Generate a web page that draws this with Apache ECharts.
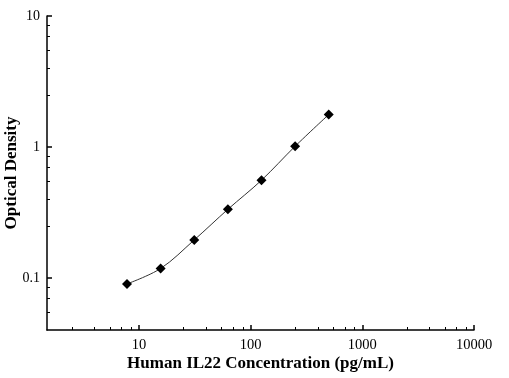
<!DOCTYPE html>
<html>
<head>
<meta charset="utf-8">
<script src="https://cdn.jsdelivr.net/npm/echarts@6/dist/echarts.min.js"></script>
<style>
html, body { margin: 0; padding: 0; background: #fff; }
#main { width: 509px; height: 378px; }
</style>
</head>
<body>
<div id="main"></div>
<script>
// 标准曲线数据
var concentration = [7.8125, 15.625, 31.25, 62.5, 125, 250, 500];
var density = [0.090, 0.118, 0.195, 0.334, 0.557, 1.012, 1.768];

// 刻度
var xTicks = [10, 100, 1000, 10000];
var yTicks = [0.1, 1, 10];
var xMinor = [2.5, 4, 5.5, 7, 8.5, 25, 40, 55, 70, 85, 250, 400, 550, 700, 850, 2500, 4000, 5500, 7000, 8500];
var yMinor = [0.055, 0.07, 0.085, 0.25, 0.4, 0.55, 0.7, 0.85, 2.5, 4, 5.5, 7, 8.5];

var myChart = echarts.init(document.getElementById('main'));

var font = 'Liberation Serif';
var grid = { left: 47, right: 35, top: 16, bottom: 48, outerBoundsMode: 'none', containLabel: false };

var points = [];
for (var i = 0; i < concentration.length; i++) {
	points.push([concentration[i], density[i]]);
}

function plain(v) {
	return String(v);
}

var option = {
	animation: false,
	grid: grid,
	xAxis: [{
		type: 'log',
		min: 1.5,
		max: 10000,
		position: 'bottom',
		name: 'Human IL22 Concentration (pg/mL)',
		nameLocation: 'middle',
		nameGap: 25,
		nameMoveOverlap: false,
		nameTextStyle: { fontFamily: font, fontWeight: 'bold', fontSize: 17, color: '#000' },
		axisLine: { show: true, lineStyle: { color: '#000', width: 1.5 } },
		axisTick: { show: true, inside: true, length: 5, customValues: xTicks, lineStyle: { color: '#000', width: 1.5 } },
		axisLabel: { customValues: xTicks, formatter: plain, margin: 8, fontFamily: font, fontSize: 14.5, color: '#000' },
		splitLine: { show: false }
	}, {
		type: 'log',
		min: 1.5,
		max: 10000,
		position: 'bottom',
		offset: 0,
		axisLine: { show: false },
		axisTick: { show: true, inside: true, length: 3, customValues: xMinor, lineStyle: { color: '#000', width: 1 } },
		axisLabel: { show: false },
		splitLine: { show: false }
	}],
	yAxis: [{
		type: 'log',
		min: 0.04,
		max: 10,
		position: 'left',
		name: 'Optical Density',
		nameLocation: 'middle',
		nameGap: 27,
		nameMoveOverlap: false,
		nameRotate: 90,
		nameTextStyle: { fontFamily: font, fontWeight: 'bold', fontSize: 17, color: '#000' },
		axisLine: { show: true, lineStyle: { color: '#000', width: 1.5 } },
		axisTick: { show: true, inside: true, length: 5, customValues: yTicks, lineStyle: { color: '#000', width: 1.5 } },
		axisLabel: { customValues: yTicks, formatter: plain, margin: 7, fontFamily: font, fontSize: 14, color: '#000' },
		splitLine: { show: false }
	}, {
		type: 'log',
		min: 0.04,
		max: 10,
		position: 'left',
		offset: 0,
		axisLine: { show: false },
		axisTick: { show: true, inside: true, length: 3, customValues: yMinor, lineStyle: { color: '#000', width: 1 } },
		axisLabel: { show: false },
		splitLine: { show: false }
	}],
	series: [{
		type: 'line',
		data: points,
		smooth: 0.35,
		symbol: 'diamond',
		symbolSize: 10,
		itemStyle: { color: '#000' },
		lineStyle: { color: '#333', width: 1 }
	}]
};

myChart.setOption(option);
</script>
</body>
</html>
